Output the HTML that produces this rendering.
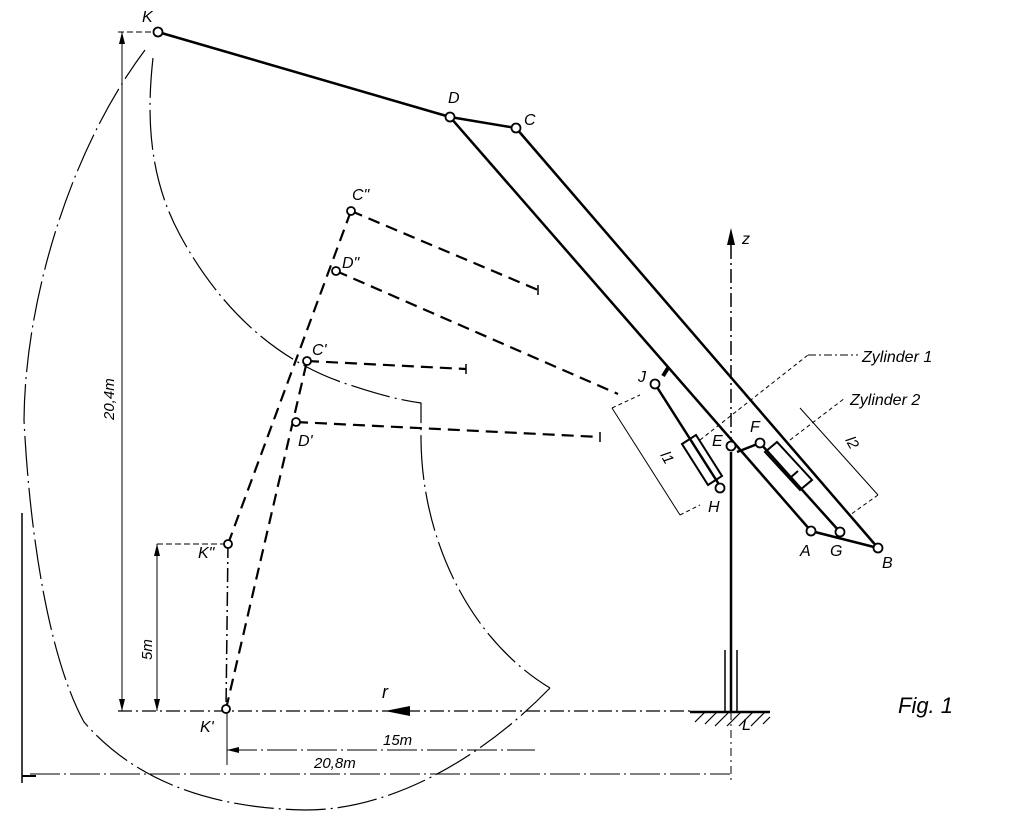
<!DOCTYPE html>
<html><head><meta charset="utf-8"><style>
html,body{margin:0;padding:0;background:#fff;}
svg{display:block;}
text{font-family:"Liberation Sans",sans-serif;font-style:italic;fill:#000;}
</style></head><body>
<svg width="1012" height="813" viewBox="0 0 1012 813" xmlns="http://www.w3.org/2000/svg">
<g fill="none" stroke="#000">
<line x1="158" y1="32" x2="450" y2="117" stroke-width="2.5"/>
<line x1="450" y1="117" x2="516" y2="128" stroke-width="2.5"/>
<line x1="450" y1="117" x2="811" y2="531" stroke-width="2.5"/>
<line x1="516" y1="128" x2="878" y2="548" stroke-width="2.5"/>
<line x1="811" y1="531" x2="878" y2="548" stroke-width="2.5"/>
<line x1="663" y1="376" x2="668" y2="368" stroke-width="4"/>
<line x1="655" y1="384" x2="720" y2="486" stroke-width="2.5"/>
<polygon points="682,444 696,435 722,476 708,485" stroke-width="2"/>
<line x1="760" y1="443" x2="840" y2="532" stroke-width="2.5"/>
<line x1="737" y1="452" x2="760" y2="443" stroke-width="2.5"/>
<polygon points="765,452 777,442 812,480 800,490" stroke-width="2"/>
<line x1="790" y1="478" x2="798" y2="471" stroke-width="2"/>
<line x1="731" y1="245" x2="731" y2="440" stroke-width="1.5" stroke-dasharray="14,4,2,4"/>
<line x1="731" y1="452" x2="731" y2="712" stroke-width="2.5"/>
<line x1="725" y1="650" x2="725" y2="712" stroke-width="1.5"/>
<line x1="737" y1="650" x2="737" y2="712" stroke-width="1.5"/>
<line x1="731" y1="712" x2="731" y2="780" stroke-width="1" stroke-dasharray="8,4,2,4"/>
<line x1="690" y1="712" x2="770" y2="712" stroke-width="2.5"/>
<g stroke-width="1.2">
<line x1="695" y1="722" x2="705" y2="712"/><line x1="705" y1="724" x2="717" y2="712"/><line x1="715" y1="726" x2="729" y2="712"/><line x1="727" y1="726" x2="741" y2="712"/><line x1="739" y1="726" x2="753" y2="712"/><line x1="751" y1="726" x2="765" y2="712"/><line x1="763" y1="724" x2="770" y2="717"/>
</g>
<line x1="118" y1="711" x2="690" y2="711" stroke-width="1.2" stroke-dasharray="14,4,2,4"/>
<g stroke-width="2.2" stroke-dasharray="12,7">
<line x1="228" y1="544" x2="351" y2="211"/>
<line x1="226" y1="709" x2="307" y2="361"/>
<line x1="351" y1="211" x2="538" y2="290"/>
<line x1="336" y1="271" x2="618" y2="394"/>
<line x1="307" y1="361" x2="466" y2="369"/>
<line x1="296" y1="422" x2="600" y2="437"/>
</g>
<line x1="228" y1="544" x2="226" y2="709" stroke-width="1.5" stroke-dasharray="14,4,2,4"/>
<line x1="538" y1="285" x2="538" y2="295" stroke-width="1.5"/>
<line x1="466" y1="364" x2="466" y2="374" stroke-width="1.5"/>
<line x1="600" y1="432" x2="600" y2="442" stroke-width="1.5"/>
<g stroke-width="1.2" stroke-dasharray="40,5,2,5">
<path d="M153,58 C146,120 150,180 180,235 C215,300 270,360 350,385 C380,395 400,400 421,403 L421,440"/>
<path d="M421,440 C422,540 470,640 550,688"/>
<path d="M550,688 C480,760 390,810 306,810 C200,808 130,775 84,722 C50,660 30,540 24,420 C25,300 70,150 145,50"/>
</g>
<g stroke-width="1">
<line x1="122" y1="32" x2="122" y2="711"/>
<line x1="118" y1="32" x2="155" y2="32" stroke-dasharray="6,3"/>
<line x1="157" y1="544" x2="157" y2="711"/>
<line x1="157" y1="544" x2="225" y2="544" stroke-dasharray="6,3"/>
<line x1="227" y1="750" x2="535" y2="750" stroke-dasharray="30,4,2,4"/>
<line x1="30" y1="774" x2="730" y2="774" stroke-dasharray="30,4,2,4"/>
<line x1="227" y1="711" x2="227" y2="765"/>
<line x1="22" y1="513" x2="22" y2="783" stroke-width="1.5"/>
<line x1="22" y1="776" x2="36" y2="776" stroke-width="2"/>
<line x1="612" y1="408" x2="680" y2="515"/>
<line x1="612" y1="408" x2="640" y2="395" stroke-dasharray="4,3"/>
<line x1="680" y1="515" x2="700" y2="505" stroke-dasharray="4,3"/>
<line x1="800" y1="408" x2="878" y2="495"/>
<line x1="878" y1="495" x2="850" y2="515" stroke-dasharray="4,3"/>
<line x1="700" y1="440" x2="808" y2="355" stroke-dasharray="4,3"/>
<line x1="808" y1="355" x2="858" y2="355" stroke-dasharray="8,3,2,3"/>
<line x1="790" y1="440" x2="845" y2="398" stroke-dasharray="4,3"/>
</g>
</g>
<polygon points="731,228 727,245 735,245" fill="#000"/>
<polygon points="385,711 410,706 410,716" fill="#000"/>
<polygon points="122,32 119,44 125,44" fill="#000"/>
<polygon points="122,711 119,699 125,699" fill="#000"/>
<polygon points="157,544 154,556 160,556" fill="#000"/>
<polygon points="157,711 154,699 160,699" fill="#000"/>
<polygon points="227,750 239,747 239,753" fill="#000"/>
<g fill="#fff" stroke="#000" stroke-width="1.8">
<circle cx="158" cy="32" r="4.5"/><circle cx="450" cy="117" r="4.5"/><circle cx="516" cy="128" r="4.5"/>
<circle cx="655" cy="384" r="4.5"/><circle cx="731" cy="446" r="4.5"/><circle cx="760" cy="443" r="4.5"/>
<circle cx="720" cy="488" r="4.5"/><circle cx="811" cy="531" r="4.5"/><circle cx="840" cy="532" r="4.5"/>
<circle cx="878" cy="548" r="4.5"/>
<circle cx="351" cy="211" r="4"/><circle cx="336" cy="271" r="4"/><circle cx="307" cy="361" r="4"/>
<circle cx="296" cy="422" r="4"/><circle cx="228" cy="544" r="4"/><circle cx="226" cy="709" r="4"/>
</g>
<g font-size="16">
<text x="142" y="22">K</text><text x="448" y="103">D</text><text x="524" y="125">C</text>
<text x="352" y="200">C"</text><text x="342" y="268">D"</text><text x="312" y="355">C'</text>
<text x="298" y="446">D'</text><text x="198" y="558">K"</text><text x="200" y="732">K'</text>
<text x="638" y="382">J</text><text x="712" y="446">E</text><text x="750" y="432">F</text>
<text x="708" y="512">H</text><text x="800" y="556">A</text><text x="830" y="556">G</text>
<text x="882" y="568">B</text><text x="742" y="730">L</text><text x="742" y="244">z</text>
<text x="382" y="698" font-size="18">r</text>
<text x="862" y="362">Zylinder 1</text><text x="850" y="405">Zylinder 2</text>
<text x="898" y="713" font-size="22">Fig. 1</text>
<text x="383" y="745" font-size="15">15m</text><text x="314" y="768" font-size="15">20,8m</text>
<text transform="translate(114,420) rotate(-90)" font-size="15">20,4m</text>
<text transform="translate(152,660) rotate(-90)" font-size="15">5m</text>
<text transform="translate(660,455) rotate(60)" font-size="15">l1</text>
<text transform="translate(845,440) rotate(60)" font-size="15">l2</text>
</g>
</svg>
</body></html>
